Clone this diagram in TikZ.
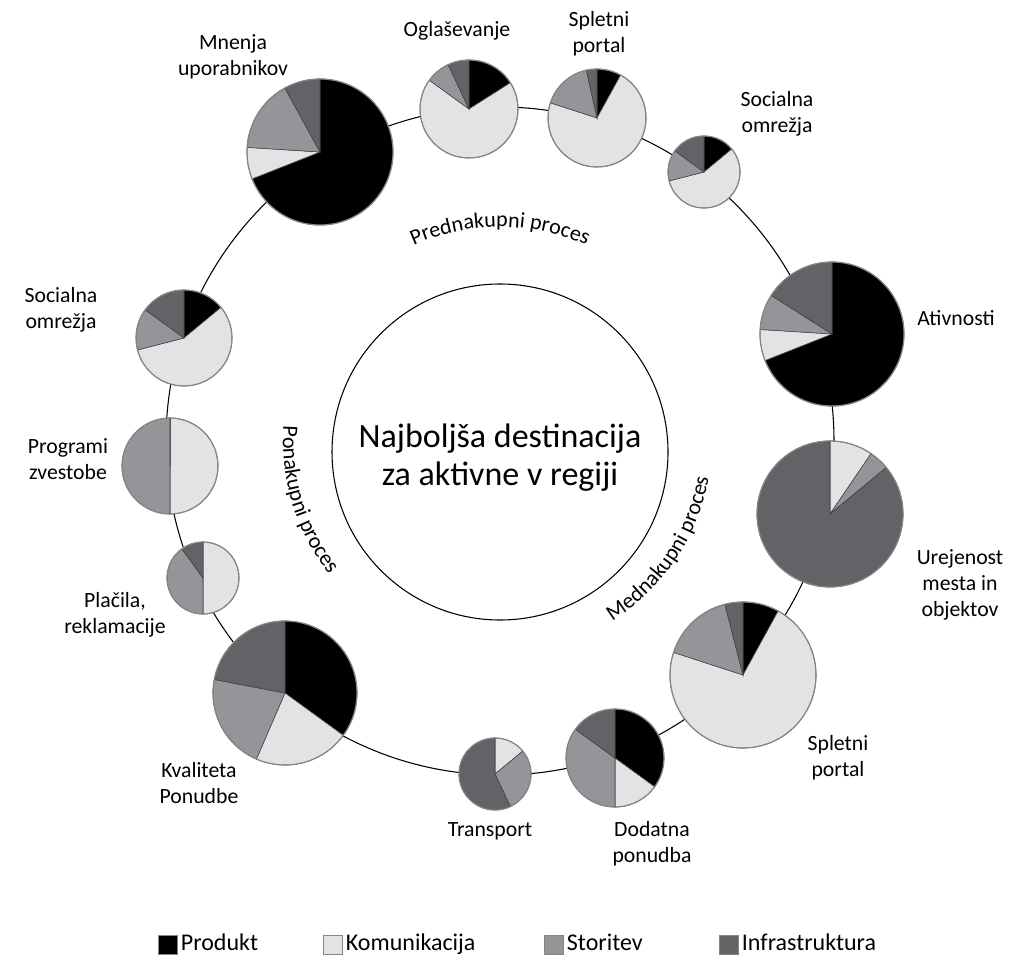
\documentclass[tikz,border=0pt]{standalone}
\usepackage{fontspec}
\setmainfont{Carlito}
\usetikzlibrary{positioning,decorations.text}

\definecolor{produkt}{HTML}{000000}
\definecolor{komunikacija}{HTML}{E2E3E4}
\definecolor{storitev}{HTML}{939598}
\definecolor{infrastruktura}{HTML}{626366}
\definecolor{rimgray}{HTML}{858585}

\tikzset{
  slice/.style={draw=black!75, line width=0.4pt},
  rim/.style={draw=rimgray, line width=0.9pt},
  lbl/.style={align=center, inner sep=0pt, font=\fontsize{16.3}{19.5}\selectfont},
  keybox/.style={minimum size=14.5pt, inner sep=0pt, draw=rimgray, line width=0.5pt},
  keytext/.style={inner sep=0pt, text height=11pt, text depth=3.5pt, font=\fontsize{18}{21}\selectfont}
}
\newcommand{\curvefont}{\fontsize{16.5}{20}\selectfont}

% one pie: name, x, y, radius, then shares of Produkt, Komunikacija, Storitev, Infrastruktura
\newcommand{\pie}[8]{%
  \coordinate (#1) at (#2,#3);
  \pgfmathsetmacro\angA{90-3.6*#5}%
  \pgfmathsetmacro\angB{\angA-3.6*#6}%
  \pgfmathsetmacro\angC{\angB-3.6*#7}%
  \filldraw[slice, fill=produkt] (#1) -- ++(90:#4) arc[start angle=90, end angle=\angA, radius=#4] -- cycle;
  \filldraw[slice, fill=komunikacija] (#1) -- ++(\angA:#4) arc[start angle=\angA, end angle=\angB, radius=#4] -- cycle;
  \filldraw[slice, fill=storitev] (#1) -- ++(\angB:#4) arc[start angle=\angB, end angle=\angC, radius=#4] -- cycle;
  \filldraw[slice, fill=infrastruktura] (#1) -- ++(\angC:#4) arc[start angle=\angC, end angle=-270, radius=#4] -- cycle;
  \draw[rim] (#1) circle[radius=#4];
}

\begin{document}
\begin{tikzpicture}[x=0.75pt, y=0.75pt]
  %uncomment to see grid on which it was measured (pixels of the picture):
  %\draw[dotted,step=50,black,very thin] (0,-959) grid (1020,0);
  \useasboundingbox (0,0) rectangle (1020,-959);

  % the ring that carries the pies
  \coordinate (hub) at (500,-441);
  \draw[line width=0.8pt] (hub) circle[radius=334];

  % the middle
  \coordinate (mid) at (500,-452);
  \draw[line width=0.8pt] (mid) circle[radius=168];
  \node[align=center, inner sep=0pt, font=\fontsize{25.5}{28.5}\selectfont] (goal) at (500,-458)
    {Najboljša destinacija\\za aktivne v regiji};

  % the three stages, written along the ring
  \path[decorate, decoration={text along path, text align=center,
      text={|\curvefont|Prednakupni proces}}]
    (hub) ++(125:214) arc[start angle=125, end angle=55, radius=214];
  \path[decorate, decoration={text along path, text align=center,
      text={|\curvefont|Mednakupni proces}}]
    (hub) ++(-69:212) arc[start angle=-69, end angle=1, radius=212];
  \path[decorate, decoration={text along path, text align=center,
      text={|\curvefont|Ponakupni proces}}]
    (hub) ++(162:217) arc[start angle=162, end angle=232, radius=217];

  % pies, clockwise from the top left
  \pie{mnenja}{320}{-152}{73}{69}{7}{16}{8}
  \pie{oglas}{469}{-109}{49}{16}{69}{8}{7}
  \pie{portalA}{597}{-118}{49}{8}{72}{16.5}{3.5}
  \pie{socA}{704}{-172}{36}{14}{57}{14}{15}
  \pie{ativ}{832}{-334}{72}{69}{7}{8}{16}
  \pie{urej}{830}{-514}{73}{0}{9.5}{4.5}{86}
  \pie{portalB}{743}{-675}{73}{8}{72}{16}{4}
  \pie{dodat}{615}{-758}{49}{35}{15}{35}{15}
  \pie{trans}{495}{-774}{36}{0}{14}{29}{57}
  \pie{kval}{285}{-693}{72}{35}{21.5}{21.5}{22}
  \pie{placila}{203}{-578}{36}{0}{50}{40}{10}
  \pie{zvest}{170}{-466}{48}{0}{50}{50}{0}
  \pie{socB}{184}{-338}{48}{14}{57}{14}{15}

  % labels
  \node[lbl] (mnenjaL) at (233,-57) {Mnenja\\uporabnikov};
  \node[lbl] (oglasL) at (457,-31) {Oglaševanje};
  \node[lbl] (portalAL) at (599,-34) {Spletni\\portal};
  \node[lbl] (socAL) at (777,-114) {Socialna\\omrežja};
  \node[lbl] (ativL) at (956,-318) {Ativnosti};
  \node[lbl] (urejL) at (960,-585) {Urejenost\\mesta in\\objektov};
  \node[lbl] (portalBL) at (838,-758) {Spletni\\portal};
  \node[lbl] (dodatL) at (652,-844) {Dodatna\\ponudba};
  \node[lbl] (transL) at (490,-831) {Transport};
  \node[lbl] (kvalL) at (199,-783) {Kvaliteta\\Ponudbe};
  \node[lbl] (placilaL) at (115,-615) {Plačila,\\reklamacije};
  \node[lbl] (zvestL) at (68,-459) {Programi\\zvestobe};
  \node[lbl] (socBL) at (61,-310) {Socialna\\omrežja};

  % legend
  \node[keybox, fill=produkt] (keyP) at (168,-945) {};
  \node[keytext, right=2pt of keyP] (keyPL) {Produkt};
  \node[keybox, fill=komunikacija] (keyK) at (333,-945) {};
  \node[keytext, right=2pt of keyK] (keyKL) {Komunikacija};
  \node[keybox, fill=storitev] (keyS) at (554,-945) {};
  \node[keytext, right=2pt of keyS] (keySL) {Storitev};
  \node[keybox, fill=infrastruktura] (keyI) at (729,-945) {};
  \node[keytext, right=2pt of keyI] (keyIL) {Infrastruktura};
\end{tikzpicture}
\end{document}
